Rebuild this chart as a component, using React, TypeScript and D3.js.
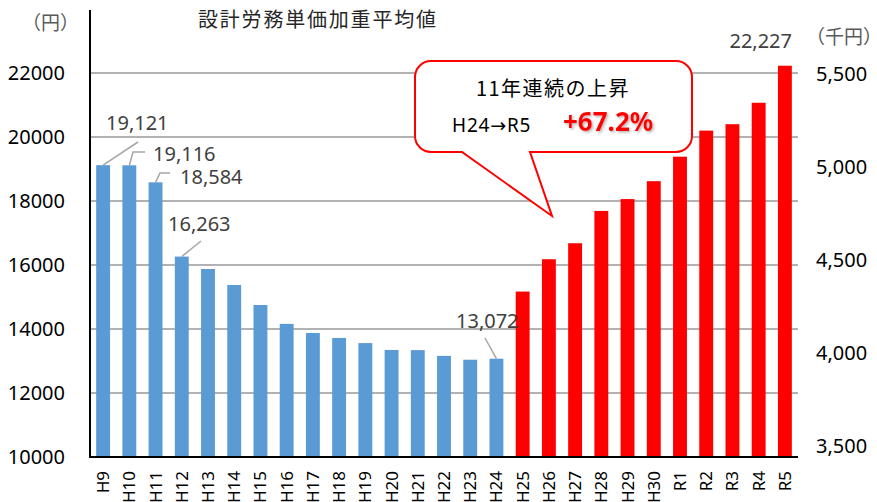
import * as d3 from 'd3';

// 設計労務単価 加重平均値 (H9 - R5)
const categories = [
  'H9', 'H10', 'H11', 'H12', 'H13', 'H14', 'H15', 'H16', 'H17', 'H18', 'H19',
  'H20', 'H21', 'H22', 'H23', 'H24', 'H25', 'H26', 'H27', 'H28', 'H29', 'H30',
  'R1', 'R2', 'R3', 'R4', 'R5',
];
const values = [
  19121, 19116, 18584, 16263, 15875, 15375, 14750, 14160, 13875, 13720, 13560,
  13345, 13340, 13160, 13040, 13072, 15170, 16180, 16680, 17690, 18060, 18620,
  19385, 20200, 20400, 21070, 22227,
];
const risingFrom = 'H25';
const leftTicks = [10000, 12000, 14000, 16000, 18000, 20000, 22000];
const rightTicks = [3500, 4000, 4500, 5000, 5500];
const labelled = ['H9', 'H10', 'H11', 'H12', 'H24', 'R5'];

const title = '設計労務単価加重平均値';
const calloutLine1 = '11年連続の上昇';
const calloutFrom = 'H24';
const calloutTo = 'R5';
const calloutRate = '+67.2%';

// where each data label sits, and the bend points of its leader line
const labelLayout = {
  H9: { x: 106, y: 130, anchor: 'start', bend: [[138, 142]] },
  H10: { x: 153, y: 161, anchor: 'start', bend: [[145, 152], [133, 152]] },
  H11: { x: 180, y: 184, anchor: 'start', bend: [[170, 173], [160, 173]] },
  H12: { x: 168, y: 231, anchor: 'start', bend: [[201, 241]] },
  H24: { x: 456, y: 328, anchor: 'start', bend: [[485, 338]] },
  R5: { x: 792, y: 48, anchor: 'end', bend: [] },
};

const W = 877;
const H = 502;
const left = 90;
const right = 798;
const top = 10;
const bottom = 457;

const jp = '"Noto Sans CJK JP", "Noto Sans", sans-serif';
const num = '"Noto Sans", "Open Sans", sans-serif';

export default function App() {
  const x = d3
    .scaleBand<string>()
    .domain(categories)
    .range([left, right])
    .paddingInner(0.47)
    .paddingOuter(0.235);
  const y = d3.scaleLinear().domain([10000, 24000]).range([bottom, bottom - 14000 * 0.032]);
  const yRight = d3.scaleLinear().domain([3500, 5500]).range([446, 74]);
  const fmt = d3.format(',');
  const riseIdx = categories.indexOf(risingFrom);

  const line = d3.line();

  return (
    <svg
      width={W}
      height={H}
      style={{ position: 'absolute', left: 0, top: 0, background: '#fff' }}
    >
      <defs>
        <filter id="shadow" x="-10%" y="-20%" width="130%" height="150%">
          <feDropShadow dx="1.5" dy="1.5" stdDeviation="0.8" floodColor="#888" floodOpacity="0.6" />
        </filter>
      </defs>

      {/* gridlines */}
      {leftTicks.slice(1).map((t) => (
        <line key={t} x1={left} x2={right} y1={y(t)} y2={y(t)} stroke="#999" strokeWidth={1.5} />
      ))}

      {/* bars */}
      {categories.map((c, i) => (
        <rect
          key={c}
          x={x(c)}
          y={y(values[i])}
          width={x.bandwidth()}
          height={y(10000) - y(values[i])}
          fill={i >= riseIdx ? '#ff0000' : '#5b9bd5'}
        />
      ))}

      {/* axes lines */}
      <line x1={left} x2={left} y1={top} y2={bottom + 1} stroke="#000" strokeWidth={2} />
      <line x1={left - 1} x2={right} y1={bottom} y2={bottom} stroke="#000" strokeWidth={2} />

      {/* left ticks */}
      {leftTicks.map((t) => (
        <text
          key={t}
          x={65}
          y={y(t)}
          dy="0.35em"
          textAnchor="end"
          fontFamily={num}
          fontSize={20}
          fill="#000"
        >
          {t}
        </text>
      ))}

      {/* right ticks */}
      {rightTicks.map((t) => (
        <text
          key={t}
          x={816}
          y={yRight(t)}
          dy="0.35em"
          textAnchor="start"
          fontFamily={num}
          fontSize={20}
          fill="#000"
        >
          {fmt(t)}
        </text>
      ))}

      {/* category labels */}
      {categories.map((c) => {
        const cx = x(c)! + x.bandwidth() / 2;
        return (
          <text
            key={c}
            transform={`translate(${cx},${bottom + 14}) rotate(-90)`}
            dy="0.35em"
            textAnchor="end"
            fontFamily={num}
            fontSize={17}
            fill="#000"
          >
            {c}
          </text>
        );
      })}

      {/* units & title */}
      <text x={22} y={30} fontFamily={jp} fontSize={19} fill="#595959">（円）</text>
      <text x={806} y={44} fontFamily={jp} fontSize={19} fill="#595959">（千円）</text>
      <text x={198} y={27} fontFamily={jp} fontSize={20} letterSpacing={1.8} fill="#262626">
        {title}
      </text>

      {/* data labels */}
      {labelled.map((c) => {
        const i = categories.indexOf(c);
        const l = labelLayout[c];
        const cx = x(c)! + x.bandwidth() / 2;
        const pts = [...l.bend, [cx, y(values[i])]] as [number, number][];
        return (
          <g key={c}>
            {pts.length > 1 && (
              <path d={line(pts)!} fill="none" stroke="#a6a6a6" strokeWidth={1.5} />
            )}
            <text
              x={l.x}
              y={l.y}
              textAnchor={l.anchor}
              fontFamily={num}
              fontSize={20}
              fill="#404040"
            >
              {fmt(values[i])}
            </text>
          </g>
        );
      })}

      {/* callout */}
      <path
        d="M431,61 H676 A16,16 0 0 1 692,77 V136 A16,16 0 0 1 676,152 H530 L552,216 L462,152 H431 A16,16 0 0 1 415,136 V77 A16,16 0 0 1 431,61 Z"
        fill="#fff"
        stroke="#ff0000"
        strokeWidth={2}
      />
      <text x={553} y={96} textAnchor="middle" fontFamily={jp} fontSize={20} letterSpacing={1.5} fill="#000">
        {calloutLine1}
      </text>
      <text x={452} y={132} fontFamily={num} fontSize={19} letterSpacing={0.8} fill="#000">
        {calloutFrom}
        <tspan fontFamily="DejaVu Sans" fontSize={19}>→</tspan>
        {calloutTo}
      </text>
      <text
        x={563}
        y={131}
        fontFamily={num}
        fontSize={26}
        fontWeight="bold"
        fill="#ff0000"
        filter="url(#shadow)"
      >
        {calloutRate}
      </text>
    </svg>
  );
}
